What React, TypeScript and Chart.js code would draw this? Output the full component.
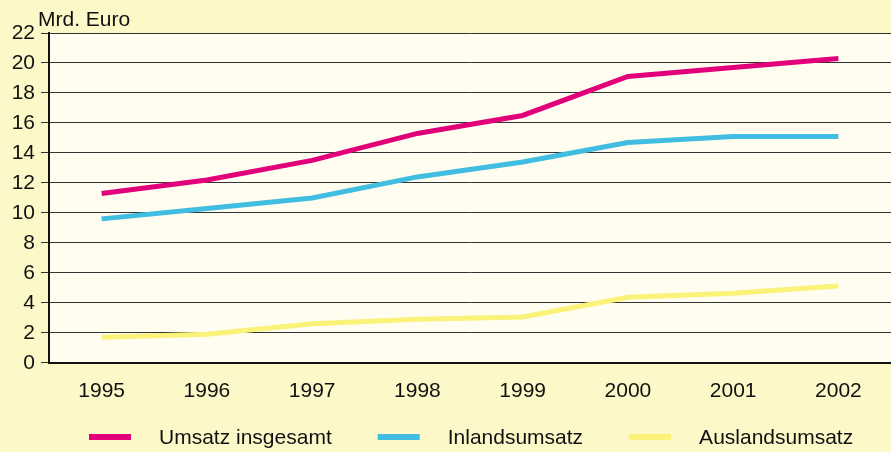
import React, { useEffect, useRef } from "react";
import { Chart, registerables } from "chart.js";

Chart.register(...registerables);

const years = ["1995", "1996", "1997", "1998", "1999", "2000", "2001", "2002"];
const umsatzInsgesamt = [11.3, 12.2, 13.5, 15.3, 16.5, 19.1, 19.7, 20.3];
const inlandsumsatz = [9.6, 10.3, 11.0, 12.4, 13.4, 14.7, 15.1, 15.1];
const auslandsumsatz = [1.7, 1.9, 2.6, 2.9, 3.05, 4.37, 4.64, 5.13];
const seriesNames = ["Umsatz insgesamt", "Inlandsumsatz", "Auslandsumsatz"];
const unitLabel = "Mrd. Euro";

const FONT = "'Liberation Sans', Arial, sans-serif";
const FS = 21;

const bgPlugin = {
  id: "bgPlugin",
  beforeDraw(chart: any) {
    const { ctx, chartArea, width, height } = chart;
    ctx.save();
    ctx.fillStyle = "#fdf8c8";
    ctx.fillRect(0, 0, width, height);
    ctx.fillStyle = "#fffdf0";
    ctx.fillRect(chartArea.left, chartArea.top, chartArea.right - chartArea.left, chartArea.bottom - chartArea.top);
    ctx.restore();
  },
  afterDraw(chart: any) {
    const { ctx, chartArea } = chart;
    ctx.save();
    ctx.font = `${FS}px ${FONT}`;
    ctx.fillStyle = "#111";
    ctx.textBaseline = "alphabetic";
    ctx.textAlign = "left";
    ctx.fillText(unitLabel, chartArea.left - 11, chartArea.top - 7);

    // legend
    let x = 89;
    const y = 437;
    chart.data.datasets.forEach((ds: any) => {
      ctx.fillStyle = ds.borderColor;
      ctx.fillRect(x, y - 3, 42, 6);
      x += 42 + 28;
      ctx.fillStyle = "#111";
      ctx.textBaseline = "middle";
      ctx.fillText(ds.label, x, y + 1);
      x += ctx.measureText(ds.label).width + 46;
    });
    ctx.restore();
  },
};

export default function App() {
  const ref = useRef<HTMLCanvasElement>(null);
  useEffect(() => {
    document.body.style.margin = "0";
    const chart = new Chart(ref.current!, {
      type: "line",
      data: {
        labels: years,
        datasets: [
          { label: seriesNames[0], data: umsatzInsgesamt, borderColor: "#e2007a", backgroundColor: "#e2007a" },
          { label: seriesNames[1], data: inlandsumsatz, borderColor: "#42bde2", backgroundColor: "#42bde2" },
          { label: seriesNames[2], data: auslandsumsatz, borderColor: "#fbf27a", backgroundColor: "#fbf27a" },
        ].map((d) => ({ ...d, borderWidth: 5, pointRadius: 0, tension: 0, fill: false, borderCapStyle: "butt" as const })),
      },
      options: {
        animation: false,
        responsive: false,
        maintainAspectRatio: false,
        layout: { padding: { top: 33, bottom: 32, left: 0, right: 0 } },
        plugins: { legend: { display: false }, tooltip: { enabled: false }, title: { display: false } },
        scales: {
          x: {
            offset: true,
            grid: { display: false, drawTicks: false },
            border: { display: true, color: "#111", width: 2 },
            ticks: { color: "#111", font: { family: FONT, size: FS }, padding: 16, maxRotation: 0 },
          },
          y: {
            min: 0,
            max: 22,
            ticks: { stepSize: 2, color: "#111", font: { family: FONT, size: FS }, padding: 6 },
            grid: { color: "#333", lineWidth: 1, tickLength: 8, drawTicks: true },
            border: { display: true, color: "#111", width: 2 },
            afterFit(scale: any) {
              scale.width = 49;
            },
          },
        },
      },
      plugins: [bgPlugin],
    });
    return () => chart.destroy();
  }, []);
  return <canvas ref={ref} width={891} height={452} style={{ display: "block" }} />;
}
